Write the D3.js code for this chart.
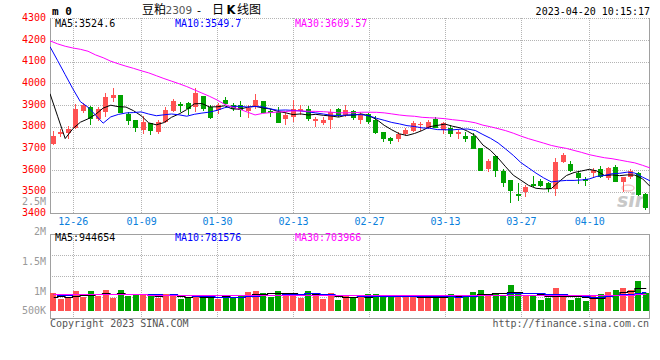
<!DOCTYPE html>
<html><head><meta charset="utf-8">
<script src="https://cdn.jsdelivr.net/npm/d3@7"></script>
<style>body{margin:0;background:#fff}svg{display:block}</style>
</head><body>
<svg id="c" width="660" height="360"></svg>
<script>
const dates = ["12-21","12-22","12-23","12-26","12-27","12-28","12-29","12-30",
"01-03","01-04","01-05","01-06","01-09","01-10","01-11","01-12","01-13",
"01-16","01-17","01-18","01-19","01-20","01-30","01-31",
"02-01","02-02","02-03","02-06","02-07","02-08","02-09","02-10",
"02-13","02-14","02-15","02-16","02-17","02-20","02-21","02-22","02-23","02-24",
"02-27","02-28","03-01","03-02","03-03","03-06","03-07","03-08","03-09","03-10",
"03-13","03-14","03-15","03-16","03-17","03-20","03-21","03-22","03-23","03-24",
"03-27","03-28","03-29","03-30","03-31","04-03","04-04","04-06","04-07",
"04-10","04-11","04-12","04-13","04-14","04-17","04-18","04-19","04-20"];

const open  = [3718,3766,3772,3795,3874,3892,3836,3869,3932,3946,3860,3830,3784,3815,3774,3820,3873,3904,3908,3892,
3941,3892,3877,3923,3900,3900,3874,3892,3918,3872,3869,3835,3843,3874,3881,3828,3815,3831,3881,3854,
3872,3831,3858,3831,3774,3746,3743,3766,3781,3806,3795,3834,3784,3795,3766,3758,3758,3700,3604,3664,
3595,3554,3489,3500,3534,3550,3538,3512,3638,3627,3587,3557,3585,3603,3562,3612,3546,3566,3585,3489];
const high  = [3778,3788,3803,3903,3910,3893,3892,3954,3977,3948,3869,3831,3850,3817,3831,3892,3926,3915,3915,3977,
3943,3900,3908,3938,3908,3918,3900,3951,3920,3881,3890,3869,3923,3900,3895,3846,3843,3881,3885,3900,
3877,3869,3862,3850,3775,3750,3777,3795,3827,3823,3831,3846,3820,3807,3784,3777,3770,3700,3651,3666,
3603,3556,3538,3531,3572,3557,3545,3654,3680,3643,3597,3566,3610,3618,3615,3623,3566,3604,3592,3492];
const low   = [3716,3754,3745,3790,3865,3808,3827,3846,3916,3864,3807,3776,3766,3761,3765,3815,3869,3869,3854,3866,
3873,3835,3858,3900,3873,3846,3841,3881,3862,3846,3815,3807,3823,3854,3827,3800,3807,3789,3843,3843,
3831,3811,3811,3765,3730,3719,3730,3755,3777,3781,3788,3792,3765,3754,3743,3730,3697,3597,3592,3569,
3523,3446,3458,3477,3522,3520,3500,3480,3634,3592,3535,3527,3562,3561,3554,3545,3500,3557,3480,3415];
const close = [3758,3776,3790,3880,3898,3835,3880,3935,3946,3865,3826,3795,3820,3781,3820,3877,3918,3897,3881,3954,
3882,3841,3900,3904,3882,3877,3885,3923,3864,3861,3818,3854,3881,3880,3835,3834,3831,3866,3854,3877,
3838,3858,3823,3769,3743,3734,3766,3784,3815,3811,3823,3795,3815,3765,3774,3743,3697,3597,3641,3597,
3541,3503,3482,3523,3528,3526,3511,3638,3669,3597,3562,3549,3600,3566,3608,3546,3566,3595,3484,3424];

const ma5 = [3952,3848,3745,3790,3820.4,3835.8,3856.6,3885.6,3898.8,3892.2,3890.4,3873.4,3850.4,3817.4,3808.4,3818.6,3843.2,3858.6,3878.6,3905.4,
3906.4,3891.0,3891.6,3896.2,3881.8,3880.8,3889.6,3894.2,3886.2,3882.0,3870.2,3864.0,3855.6,3858.8,3853.6,3856.8,3852.2,3849.2,3844.0,3852.4,
3853.2,3858.6,3850.0,3833.0,3806.2,3785.4,3767.0,3759.2,3768.4,3782.0,3799.8,3805.6,3811.8,3801.8,3794.4,3778.4,3758.8,3715.2,3690.4,3655.0,
3614.6,3575.8,3552.8,3529.2,3515.4,3512.4,3514.0,3545.2,3574.4,3588.2,3595.4,3603.0,3595.4,3574.8,3577.0,3573.8,3577.2,3576.2,3559.8,3524.6];
const ma10 = [4169,4105,4040,3975,3915,3890,3853,3816,3845,3856.3,3863.1,3865.0,3868.0,3858.1,3850.3,3854.5,3858.3,3854.5,3848.0,3856.9,
3862.5,3867.1,3875.1,3887.4,3893.6,3893.6,3890.3,3892.9,3891.2,3881.9,3875.5,3876.8,3874.9,3872.5,3867.8,3863.5,3858.1,3852.4,3851.4,3853.0,
3855.0,3855.4,3849.6,3838.5,3829.3,3819.3,3812.8,3804.6,3800.7,3794.1,3792.6,3786.3,3785.5,3785.1,3788.2,3789.1,3782.2,3763.5,3746.1,3724.7,
3696.5,3667.3,3634.0,3609.8,3585.2,3563.5,3544.9,3549.0,3551.8,3551.8,3553.9,3558.5,3570.3,3574.6,3582.6,3584.6,3590.1,3585.8,3567.3,3549.7];
const ma30 = [4196,4182,4171,4163,4157,4148,4131,4118,4102,4090,4079,4069,4058,4048,4035,4022,4010,3998,3985,3970,
3955,3940,3923,3903,3890,3880,3867,3854,3861,3865.0,3867.0,3869.6,3872.7,3872.7,3870.6,3870.5,3868.9,3866.6,3863.5,3863.9,
3864.3,3866.4,3866.5,3866.1,3863.6,3858.8,3853.7,3850.0,3847.8,3843.0,3841.0,3839.5,3836.7,3832.0,3828.4,3824.0,3817.7,3806.8,3799.4,3790.6,
3781.4,3769.7,3756.4,3744.5,3734.2,3724.0,3713.3,3705.7,3699.5,3690.2,3681.0,3670.7,3663.3,3656.5,3652.0,3645.7,3639.1,3632.8,3621.7,3609.57];

// volume in thousands of lots
const volumeK = [738,500,571,846,596,833,625,875,554,875,625,708,708,625,542,708,667,500,542,625,
667,571,500,667,529,667,804,833,763,596,833,763,738,542,833,625,500,763,458,667,
571,571,708,708,667,596,596,596,571,571,571,625,625,708,571,625,804,875,708,708,
625,1083,804,625,625,458,554,958,625,458,560,400,667,690,804,875,958,875,1250,763];
const vma5K = [600,610,600,620,650,669,694,755,697,752,711,727,694,708,642,658,650,608,592,608,
600,581,581,606,587,587,633,700,719,733,766,758,739,694,742,700,648,653,636,603,
592,606,595,645,645,650,655,633,605,586,581,587,593,620,620,631,667,717,717,744,
744,800,786,769,752,719,613,644,644,611,631,600,542,555,624,687,799,840,952,944.654];
const vma10K = [690,684,680,688,692,700,698,706,700,701,690,711,725,702,697,685,689,651,650,625,
629,616,595,599,598,594,607,641,663,660,676,696,719,707,737,733,703,696,665,672,
646,627,624,640,624,621,631,614,625,616,616,621,613,613,603,606,627,655,668,682,
687,733,751,743,748,732,707,715,707,682,675,607,593,600,617,659,700,691,754,781.576];
const vma30K = [712,714,710,706,707,703,700,701,697,694,692,693,689,686,686,683,680,679,676,675,
672,670,669,667,665,665,664,664,662,662,665,674,680,669,677,670,666,662,659,652,
651,646,646,649,653,649,647,650,651,649,646,648,652,653,655,653,653,655,653,657,
650,660,663,665,658,653,655,661,667,660,659,654,652,652,656,666,678,687,710,703.966];

const priceTicks = [3400,3500,3600,3700,3800,3900,4000,4100,4200,4300];
const dateTicks = ["12-26","01-09","01-30","02-13","02-27","03-13","03-27","04-10"];
const volTickLabels = ["2.5M","2M","1.5M","1M","500K"];
const volTickValues = [2500,2000,1500,1000,500];

const RED = "#ff5252", GREEN = "#00a300";
const MONO = "'DejaVu Sans Mono', 'Liberation Mono', monospace";
const svg = d3.select("#c");

// scales
const L = 50, R = 650, T = 18.3, B = 213.3;
const VT = 234.3, VB = 318.3;
const xb = d3.scaleBand().domain(dates).range([L, R]);          // candle slots
const xp = d3.scalePoint().domain(dates).range([L, R]);         // grid / MA positions
const y  = d3.scaleLinear().domain([3400, 4300]).range([B, T]);
const yv = d3.scaleLinear().domain([0, 1000]).range([311, 287]);
const yvLab = d3.scaleLinear().domain([1000, 2500]).range([291, 201]);
const vGrid = d3.scaleLinear().domain([0, 4]).range([VB, VT]);
const crisp = v => Math.round(v) + 0.5;

svg.append("defs").append("clipPath").attr("id","pc")
  .append("rect").attr("x", L).attr("y", T - 1).attr("width", R - L).attr("height", B - T + 1);
svg.select("defs").append("clipPath").attr("id","vc")
  .append("rect").attr("x", L).attr("y", VT).attr("width", R - L).attr("height", VB - VT);

const grid = svg.append("g").attr("stroke", "#b4b4b4").attr("stroke-dasharray", "1,1")
  .attr("shape-rendering", "crispEdges");
grid.selectAll(".hg").data(priceTicks.filter(t => t > 3400)).join("line")
  .attr("x1", L).attr("x2", R).attr("y1", d => crisp(y(d))).attr("y2", d => crisp(y(d)));
grid.selectAll(".vg").data(dateTicks).join("line").attr("class","vg")
  .attr("x1", d => crisp(xp(d))).attr("x2", d => crisp(xp(d))).attr("y1", T).attr("y2", B);
grid.selectAll(".vhg").data([1, 2, 3]).join("line").attr("class","vhg")
  .attr("x1", L).attr("x2", R).attr("y1", d => crisp(vGrid(d))).attr("y2", d => crisp(vGrid(d)));
grid.selectAll(".vvg").data(dateTicks).join("line").attr("class","vvg")
  .attr("x1", d => crisp(xp(d))).attr("x2", d => crisp(xp(d))).attr("y1", VT).attr("y2", VB);

// frames
const frame = svg.append("g").attr("stroke", "#a0a0a0").attr("fill", "none").attr("shape-rendering", "crispEdges");
frame.append("path").attr("d", `M${crisp(L)},${T} V${crisp(B)} H${crisp(R-1)} V${T}`);
frame.append("rect").attr("x", crisp(L)).attr("y", crisp(VT)).attr("width", R - 1 - L).attr("height", Math.round(VB - VT));

// watermark (logo)
const wm = svg.append("g").attr("clip-path", "url(#pc)");
wm.append("ellipse").attr("cx", 628).attr("cy", 188).attr("rx", 6).attr("ry", 3)
  .attr("fill", "none").attr("stroke", "#f6c8c8").attr("stroke-width", 1.5);
wm.append("text").attr("x", 617).attr("y", 207).attr("fill", "#c8c8c8")
  .attr("font-family", "'DejaVu Sans', sans-serif").attr("font-weight", "bold").attr("font-style", "italic")
  .attr("font-size", 19).text("sin");

// candles
const cand = svg.append("g").attr("clip-path", "url(#pc)").attr("shape-rendering", "crispEdges");
const idx = d3.range(dates.length);
const bx = i => Math.round(xb(dates[i]) + 0.7);
const col = i => close[i] >= open[i] ? RED : GREEN;
cand.selectAll(".w").data(idx).join("line")
  .attr("x1", i => bx(i) + 2.5).attr("x2", i => bx(i) + 2.5)
  .attr("y1", i => y(high[i])).attr("y2", i => y(low[i]))
  .attr("stroke", col);
cand.selectAll(".b").data(idx).join("rect")
  .attr("x", i => bx(i)).attr("width", 5)
  .attr("y", i => y(Math.max(open[i], close[i])))
  .attr("height", i => Math.max(1, Math.abs(y(open[i]) - y(close[i]))))
  .attr("fill", col);

// price MAs
const pl = d3.line().x((d, i) => xp(dates[i])).y(d => y(d));
const mas = svg.append("g").attr("clip-path", "url(#pc)").attr("fill", "none").attr("stroke-width", 1);
[[ma5, "#000000"], [ma10, "#0000ff"], [ma30, "#ff00ff"]].forEach(([s, c]) =>
  mas.append("path").attr("d", pl(s)).attr("stroke", c));

// volume bars
const vol = svg.append("g").attr("clip-path", "url(#vc)").attr("shape-rendering", "crispEdges");
vol.selectAll("rect").data(idx).join("rect")
  .attr("x", i => Math.round(xb(dates[i]))).attr("width", 6)
  .attr("y", i => yv(volumeK[i])).attr("height", i => yv(0) - yv(volumeK[i]))
  .attr("fill", col);
const vl = d3.line().curve(d3.curveStep).x((d, i) => xb(dates[i]) + xb.bandwidth() / 2).y(d => Math.round(yv(d)) + 0.5);
const vmas = svg.append("g").attr("clip-path", "url(#vc)").attr("fill", "none").attr("stroke-width", 1.2);
[[vma5K, "#000000"], [vma10K, "#0000ff"], [vma30K, "#ff00ff"]].forEach(([s, c]) =>
  vmas.append("path").attr("d", vl(s)).attr("stroke", c));

// axes
const ya = svg.append("g").attr("transform", `translate(${L},0)`)
  .call(d3.axisLeft(y).tickValues(priceTicks).tickSize(0).tickPadding(4).tickFormat(d3.format("d")));
ya.select(".domain").remove();
ya.selectAll("text").attr("fill", "#ff0000").attr("font-family", MONO).attr("font-size", 10).attr("dy", "0.22em");

const xa = svg.append("g").attr("transform", `translate(0,${B})`)
  .call(d3.axisBottom(xp).tickValues(dateTicks).tickSize(0).tickPadding(5));
xa.select(".domain").remove();
xa.selectAll("text").attr("fill", "#0a80dc").attr("font-family", MONO).attr("font-size", 10);

svg.append("g").selectAll("text").data(volTickValues).join("text")
  .attr("x", 46).attr("y", d => Math.min(yvLab(d), 310.7) + 3.5).attr("text-anchor", "end")
  .attr("fill", "#9a9a9a").attr("font-family", MONO).attr("font-size", 10)
  .text((d, i) => volTickLabels[i]);

// header
svg.append("text").attr("x", 52).attr("y", 14.5).attr("font-family", MONO).attr("font-weight", "bold")
  .attr("font-size", 11).attr("fill", "#000").text("m 0");
const title = svg.append("text").attr("y", 14).attr("fill", "#000")
  .attr("font-family", "'Noto Sans CJK SC', sans-serif").attr("font-size", 12);
title.append("tspan").attr("x", 142).text("豆粕");
title.append("tspan").attr("x", 165.5).attr("font-family", "'DejaVu Sans', sans-serif").attr("font-size", 10.5).attr("fill", "#555").text("2309");
title.append("tspan").attr("x", 197).attr("font-family", "'DejaVu Sans', sans-serif").attr("font-size", 11).text("-");
title.append("tspan").attr("x", 212).text("日");
title.append("tspan").attr("x", 226.5).attr("font-weight", "bold").attr("font-family", "'DejaVu Sans', sans-serif").attr("font-size", 11.5).text("K");
title.append("tspan").attr("x", 237).text("线图");
svg.append("text").attr("x", 650).attr("y", 15).attr("text-anchor", "end").attr("font-family", MONO)
  .attr("font-size", 10).attr("fill", "#000").text("2023-04-20 10:15:17");

// legends
const last = a => a[a.length - 1];
const leg = [["MA5:", last(ma5), "#000000"], ["MA10:", last(ma10), "#0000ff"], ["MA30:", last(ma30), "#ff00ff"]];
svg.append("g").selectAll("text").data(leg).join("text")
  .attr("x", (d, i) => 55 + i * 120).attr("y", 27).attr("fill", d => d[2])
  .attr("font-family", MONO).attr("font-size", 10).text(d => d[0] + d[1]);
const vleg = [["MA5:", last(vma5K), "#000000"], ["MA10:", last(vma10K), "#0000ff"], ["MA30:", last(vma30K), "#ff00ff"]];
svg.append("g").selectAll("text").data(vleg).join("text")
  .attr("x", (d, i) => 55 + i * 120).attr("y", 240.5).attr("fill", d => d[2])
  .attr("font-family", MONO).attr("font-size", 10).text(d => d[0] + Math.round(d[1] * 1000));

// footer
svg.append("text").attr("x", 50).attr("y", 327).attr("fill", "#555").attr("font-family", MONO)
  .attr("font-size", 10).text("Copyright 2023 SINA.COM");
svg.append("text").attr("x", 649).attr("y", 327).attr("text-anchor", "end").attr("fill", "#555")
  .attr("font-family", MONO).attr("font-size", 10).text("http://finance.sina.com.cn");
</script>
</body></html>
